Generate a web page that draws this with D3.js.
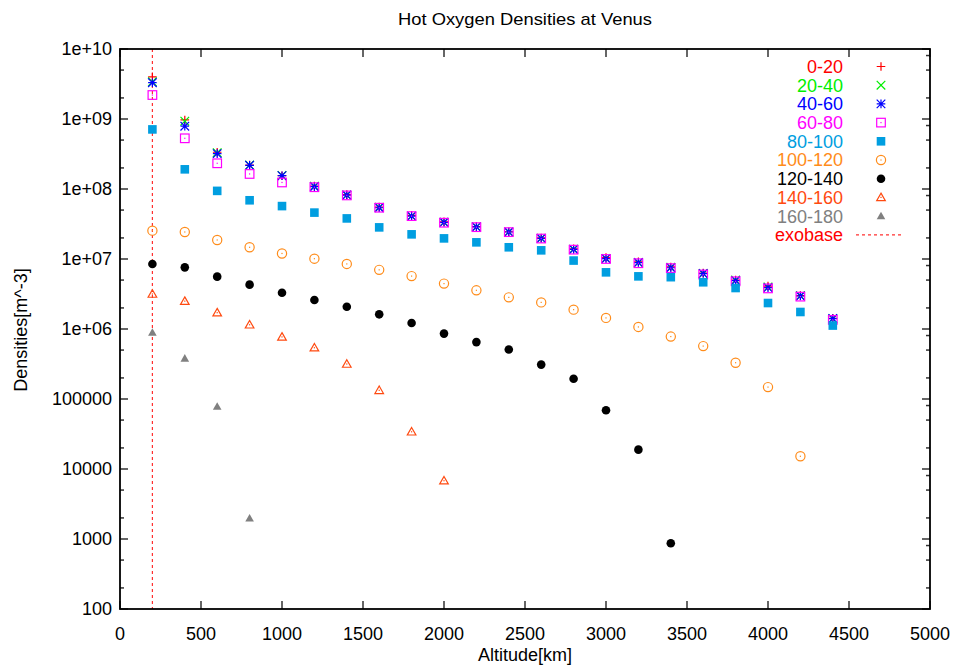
<!DOCTYPE html>
<html>
<head>
<meta charset="utf-8">
<script src="https://cdn.jsdelivr.net/npm/d3@7"></script>
<style>
  body { margin: 0; background: #fff; }
  svg text { font-family: "Liberation Sans", Arial, sans-serif; }
</style>
</head>
<body>
<svg id="chart" width="957" height="666"></svg>
<script>
// Altitudes (km) of the samples
const altitudes = [200, 400, 600, 800, 1000, 1200, 1400, 1600, 1800, 2000, 2200,
                   2400, 2600, 2800, 3000, 3200, 3400, 3600, 3800, 4000, 4200, 4400];

// Densities per energy bin (m^-3)
const s0_20   = [4.0e9, 9.7e8, 3.35e8, 2.2e8, 1.55e8, 1.1e8, 8.3e7, 5.5e7, 4.2e7, 3.4e7, 2.9e7,
                 2.45e7, 2.0e7, 1.4e7, 1.05e7, 9.1e6, 7.7e6, 6.3e6, 5.0e6, 4.1e6, 3.0e6, 1.42e6];
const s20_40  = [3.4e9, 9.3e8, 3.3e8, 2.2e8, 1.56e8, 1.1e8, 8.2e7, 5.5e7, 4.1e7, 3.35e7, 2.88e7,
                 2.44e7, 1.98e7, 1.38e7, 1.02e7, 8.9e6, 7.6e6, 6.2e6, 5.0e6, 4.0e6, 3.0e6, 1.4e6];
const s40_60  = [3.3e9, 7.9e8, 3.2e8, 2.18e8, 1.55e8, 1.08e8, 8.2e7, 5.4e7, 4.1e7, 3.34e7, 2.87e7,
                 2.43e7, 1.97e7, 1.37e7, 1.01e7, 8.9e6, 7.5e6, 6.2e6, 4.9e6, 3.9e6, 2.96e6, 1.41e6];
const s60_80  = [2.2e9, 5.3e8, 2.33e8, 1.64e8, 1.24e8, 1.06e8, 8.1e7, 5.4e7, 4.1e7, 3.3e7, 2.85e7,
                 2.42e7, 1.96e7, 1.36e7, 1.0e7, 8.7e6, 7.4e6, 6.0e6, 4.8e6, 3.8e6, 2.9e6, 1.35e6];
const s80_100 = [7.1e8, 1.91e8, 9.4e7, 6.9e7, 5.7e7, 4.6e7, 3.8e7, 2.83e7, 2.25e7, 1.97e7, 1.73e7,
                 1.47e7, 1.33e7, 9.5e6, 6.45e6, 5.65e6, 5.5e6, 4.65e6, 3.85e6, 2.35e6, 1.75e6, 1.12e6];
const s100_120 = [2.54e7, 2.43e7, 1.87e7, 1.47e7, 1.2e7, 1.01e7, 8.5e6, 7.0e6, 5.7e6, 4.45e6, 3.57e6,
                  2.83e6, 2.4e6, 1.89e6, 1.44e6, 1.07e6, 7.8e5, 5.7e5, 3.3e5, 1.48e5, 1.52e4];
const s120_140 = [8.5e6, 7.6e6, 5.6e6, 4.3e6, 3.3e6, 2.6e6, 2.08e6, 1.62e6, 1.22e6, 8.6e5, 6.5e5,
                  5.1e5, 3.1e5, 1.95e5, 6.9e4, 1.89e4, 870];
const s140_160 = [3.16e6, 2.5e6, 1.71e6, 1.15e6, 7.7e5, 5.4e5, 3.16e5, 1.33e5, 3.4e4, 6.8e3];
const s160_180 = [8.9e5, 3.8e5, 7.8e4, 1.97e3];

const seriesNames = ["0-20", "20-40", "40-60", "60-80", "80-100", "100-120", "120-140", "140-160", "160-180"];
const seriesValues = [s0_20, s20_40, s40_60, s60_80, s80_100, s100_120, s120_140, s140_160, s160_180];
const seriesColors = ["#ff0000", "#00ee00", "#0000ff", "#ff00ff", "#009ee0", "#ff8c1a", "#000000", "#ff4a10", "#808080"];
const seriesShapes = ["plus", "cross", "star", "boxDot", "box", "circleDot", "disc", "triDot", "tri"];

const exobaseAlt = 200;
const xTickValues = [0, 500, 1000, 1500, 2000, 2500, 3000, 3500, 4000, 4500, 5000];
const yTickValues = [1e2, 1e3, 1e4, 1e5, 1e6, 1e7, 1e8, 1e9, 1e10];
const yTickLabels = ["100", "1000", "10000", "100000", "1e+06", "1e+07", "1e+08", "1e+09", "1e+10"];

const svg = d3.select("#chart");
const pLeft = 120, pRight = 930, pTop = 49, pBottom = 609;
const fontSize = "18px";

const x = d3.scaleLinear().domain([0, 5000]).range([pLeft, pRight]);
const y = d3.scaleLog().domain([100, 1e10]).range([pBottom, pTop]);
// second (unlabelled) y axis on the right, slightly offset
const y2 = d3.scaleLog().domain([124, 1.24e10]).range([pBottom, pTop]);

// minor ticks at 2 and 5 of each decade
const yMinor = [];
for (let e = 2; e < 10; e++) { yMinor.push(2 * 10 ** e, 5 * 10 ** e); }

const tickColor = "#333";

// Title and axis labels
svg.append("text").attr("x", 525).attr("y", 25)
    .attr("text-anchor", "middle").style("font-size", "17px")
    .attr("textLength", 254).attr("lengthAdjust", "spacingAndGlyphs")
    .text("Hot Oxygen Densities at Venus");

svg.append("text").attr("x", 525).attr("y", 661)
    .attr("text-anchor", "middle").style("font-size", fontSize)
    .text("Altitude[km]");

svg.append("text")
    .attr("transform", "translate(27,330) rotate(-90)")
    .attr("text-anchor", "middle").style("font-size", fontSize)
    .text("Densities[m^-3]");

// Ticks (inward, mirrored)
const tg = svg.append("g").attr("stroke", tickColor).attr("stroke-width", 1.5);
xTickValues.forEach(v => {
    tg.append("line").attr("x1", x(v)).attr("x2", x(v)).attr("y1", pBottom).attr("y2", pBottom - 8);
    tg.append("line").attr("x1", x(v)).attr("x2", x(v)).attr("y1", pTop).attr("y2", pTop + 8);
});
yTickValues.forEach(v => {
    tg.append("line").attr("x1", pLeft).attr("x2", pLeft + 8).attr("y1", y(v)).attr("y2", y(v));
    tg.append("line").attr("x1", pRight).attr("x2", pRight - 8).attr("y1", y(v)).attr("y2", y(v));
});
yMinor.forEach(v => {
    tg.append("line").attr("x1", pLeft).attr("x2", pLeft + 4).attr("y1", y(v)).attr("y2", y(v));
    tg.append("line").attr("x1", pRight).attr("x2", pRight - 4).attr("y1", y(v)).attr("y2", y(v));
});
yTickValues.forEach(v => {
    if (y2(v) <= pBottom && y2(v) >= pTop) {
        tg.append("line").attr("x1", pRight).attr("x2", pRight - 4).attr("y1", y2(v)).attr("y2", y2(v));
    }
});

// Tick labels
svg.append("g").selectAll("text").data(xTickValues).enter().append("text")
    .attr("x", d => x(d)).attr("y", 640)
    .attr("text-anchor", "middle").style("font-size", fontSize)
    .text(d => d);

svg.append("g").selectAll("text").data(yTickValues).enter().append("text")
    .attr("x", 112).attr("y", d => y(d)).attr("dy", "0.36em")
    .attr("text-anchor", "end").style("font-size", fontSize)
    .text((d, i) => yTickLabels[i]);

// Exobase line
svg.append("line")
    .attr("x1", x(exobaseAlt)).attr("x2", x(exobaseAlt))
    .attr("y1", pTop).attr("y2", pBottom)
    .attr("stroke", "#ff3030").attr("stroke-width", 1.2)
    .attr("stroke-dasharray", "3,3");

// Point symbols in gnuplot style
function drawPoint(g, shape, cx, cy, color) {
    const s = 4.3;
    const p = g.append("g").attr("transform", `translate(${cx},${cy})`);
    const stroke = el => el.attr("fill", "none").attr("stroke", color).attr("stroke-width", 1.2);
    const dot = () => p.append("rect").attr("x", -0.6).attr("y", -0.6).attr("width", 1.2).attr("height", 1.2).attr("fill", color);
    if (shape === "plus") {
        stroke(p.append("path").attr("d", `M${-s},0H${s}M0,${-s}V${s}`));
    } else if (shape === "cross") {
        stroke(p.append("path").attr("d", `M${-s},${-s}L${s},${s}M${-s},${s}L${s},${-s}`));
    } else if (shape === "star") {
        stroke(p.append("path").attr("d", `M${-s},0H${s}M0,${-s}V${s}M${-s},${-s}L${s},${s}M${-s},${s}L${s},${-s}`));
    } else if (shape === "boxDot") {
        stroke(p.append("rect").attr("x", -s).attr("y", -s).attr("width", 2 * s).attr("height", 2 * s));
        dot();
    } else if (shape === "box") {
        p.append("rect").attr("x", -s).attr("y", -s).attr("width", 2 * s).attr("height", 2 * s).attr("fill", color);
    } else if (shape === "circleDot") {
        stroke(p.append("circle").attr("r", s + 0.3));
        dot();
    } else if (shape === "disc") {
        p.append("circle").attr("r", s).attr("fill", color);
    } else if (shape === "triDot") {
        stroke(p.append("path").attr("d", `M0,${-s}L${s},${s * 0.75}L${-s},${s * 0.75}Z`));
        dot();
    } else if (shape === "tri") {
        p.append("path").attr("d", `M0,${-s}L${s},${s * 0.75}L${-s},${s * 0.75}Z`).attr("fill", color);
    }
}

// Data points
const pg = svg.append("g");
seriesValues.forEach((vals, si) => {
    vals.forEach((v, i) => {
        drawPoint(pg, seriesShapes[si], x(altitudes[i]), y(v), seriesColors[si]);
    });
});

// Legend
const legX = 843, legSym = 881, legY0 = 66.5, legStep = 18.7;
const lg = svg.append("g");
seriesNames.forEach((name, i) => {
    lg.append("text").attr("x", legX).attr("y", legY0 + i * legStep).attr("dy", "0.36em")
        .attr("text-anchor", "end").style("font-size", fontSize)
        .attr("fill", seriesColors[i]).text(name);
    drawPoint(lg, seriesShapes[i], legSym, legY0 + i * legStep, seriesColors[i]);
});
const exoY = legY0 + seriesNames.length * legStep;
lg.append("text").attr("x", legX).attr("y", exoY).attr("dy", "0.36em")
    .attr("text-anchor", "end").style("font-size", fontSize)
    .attr("fill", "#ff0000").text("exobase");
lg.append("line").attr("x1", 856).attr("x2", 904).attr("y1", exoY).attr("y2", exoY)
    .attr("stroke", "#ff3030").attr("stroke-width", 1.2).attr("stroke-dasharray", "3,3");

// Frame
svg.append("rect").attr("x", pLeft).attr("y", pTop)
    .attr("width", pRight - pLeft).attr("height", pBottom - pTop)
    .attr("fill", "none").attr("stroke", "#000").attr("stroke-width", 1.8);
</script>
</body>
</html>
